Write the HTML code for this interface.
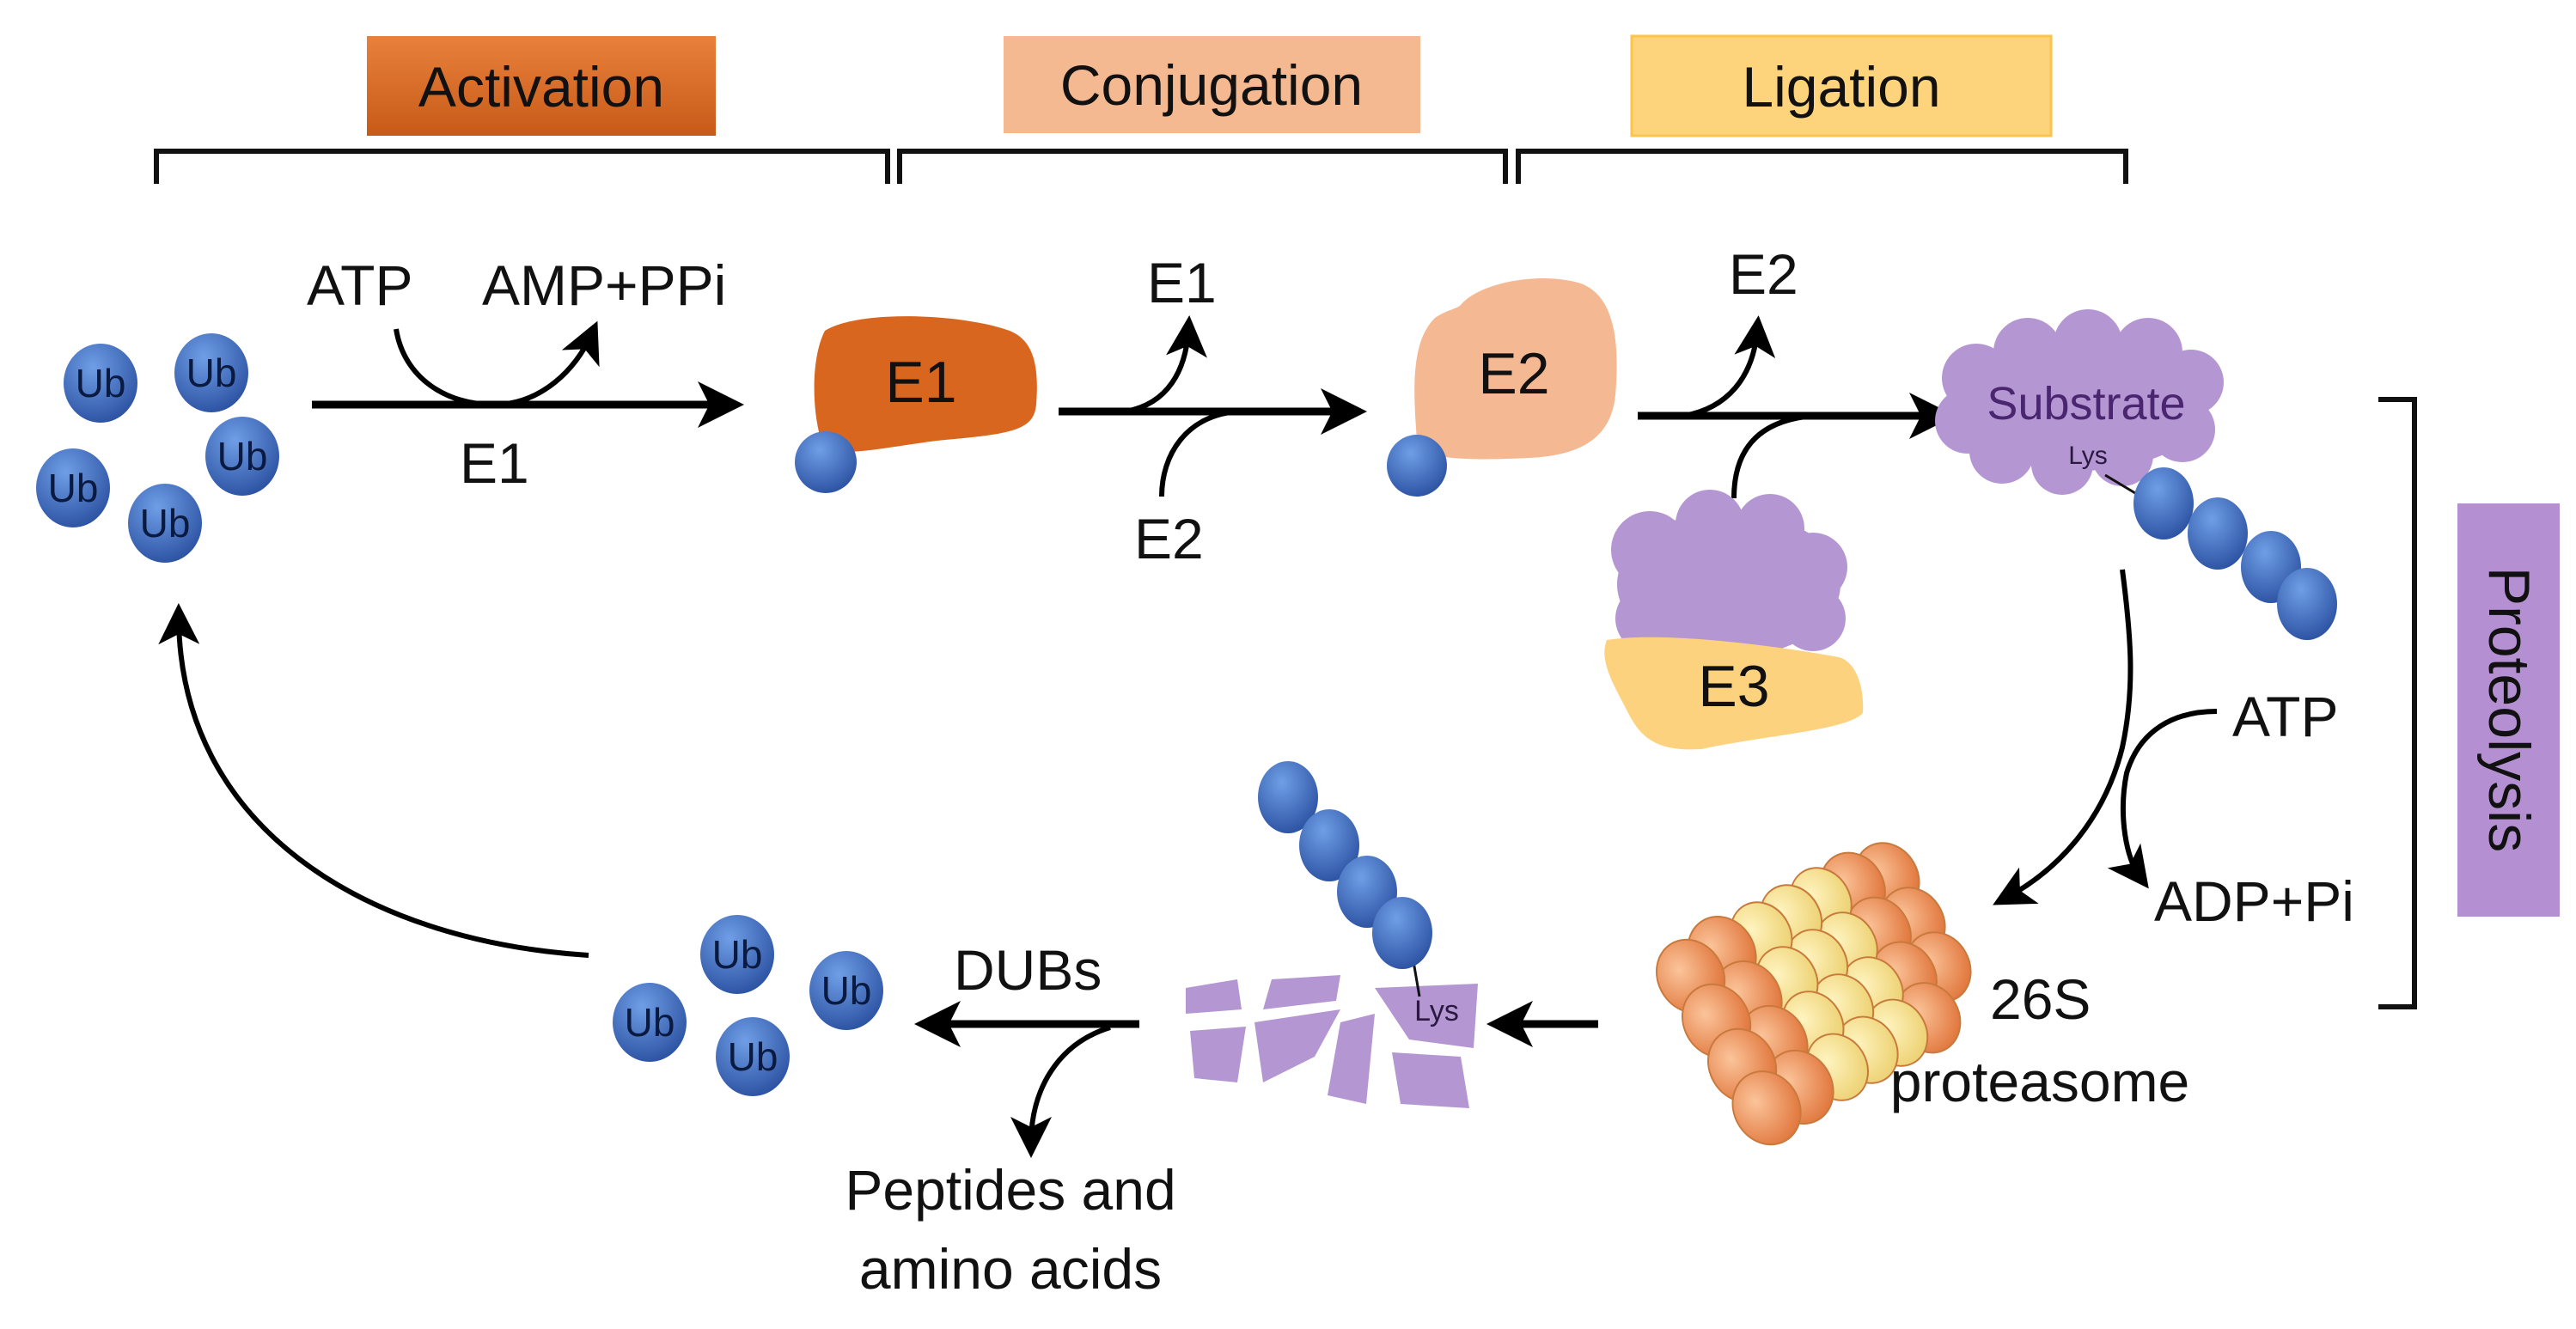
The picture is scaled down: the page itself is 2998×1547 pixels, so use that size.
<!DOCTYPE html>
<html><head><meta charset="utf-8"><style>
html,body{margin:0;padding:0;background:#fff;}
svg{display:block;}
text{font-family:"Liberation Sans",Arial,sans-serif;}
</style></head><body>
<svg width="2998" height="1547" viewBox="0 0 2998 1547" xmlns="http://www.w3.org/2000/svg">
<defs>
<radialGradient id="ub" cx="40%" cy="30%" r="75%"><stop offset="0" stop-color="#6f9ee6"/><stop offset="1" stop-color="#2a50a0"/></radialGradient>
<linearGradient id="act" x1="0" y1="0" x2="0" y2="1"><stop offset="0" stop-color="#e8813c"/><stop offset="1" stop-color="#c85a18"/></linearGradient>
<radialGradient id="og" cx="40%" cy="35%" r="70%"><stop offset="0" stop-color="#fbc49a"/><stop offset="1" stop-color="#e0743a"/></radialGradient>
<radialGradient id="yg" cx="40%" cy="35%" r="70%"><stop offset="0" stop-color="#fff4c0"/><stop offset="1" stop-color="#ecd070"/></radialGradient>
<marker id="ah" markerWidth="6" markerHeight="6" refX="4" refY="3" orient="auto" markerUnits="strokeWidth"><path d="M0,0 L6,3 L0,6 L1.5,3 z" fill="#000"/></marker>
<marker id="ah2" markerWidth="8" markerHeight="8" refX="5" refY="4" orient="auto" markerUnits="strokeWidth"><path d="M0,0 L8,4 L0,8 L2,4 z" fill="#000"/></marker>
</defs>

<rect x="427" y="42" width="406" height="116" fill="url(#act)"/>
<text x="630" y="124" font-size="66" text-anchor="middle" fill="#111">Activation</text>
<rect x="1168" y="42" width="485" height="113" fill="#f4b990"/>
<text x="1410" y="122" font-size="66" text-anchor="middle" fill="#111">Conjugation</text>
<rect x="1899" y="42" width="488" height="116" fill="#fdd47c" stroke="#fcc44a" stroke-width="3"/>
<text x="2143" y="124" font-size="66" text-anchor="middle" fill="#111">Ligation</text>

<g fill="none" stroke="#111" stroke-width="6">
<path d="M182,214 V176 H1033 V214"/>
<path d="M1047,214 V176 H1752 V214"/>
<path d="M1767,214 V176 H2474 V214"/>
<path d="M2768,465 H2810 V1172 H2768"/>
</g>

<g font-size="46" text-anchor="middle" fill="#0a1a40">
<ellipse cx="117" cy="446" rx="43" ry="46" fill="url(#ub)"/><text x="117" y="462">Ub</text>
<ellipse cx="246" cy="434" rx="43" ry="46" fill="url(#ub)"/><text x="246" y="450">Ub</text>
<ellipse cx="282" cy="531" rx="43" ry="46" fill="url(#ub)"/><text x="282" y="547">Ub</text>
<ellipse cx="85" cy="568" rx="43" ry="46" fill="url(#ub)"/><text x="85" y="584">Ub</text>
<ellipse cx="192" cy="609" rx="43" ry="46" fill="url(#ub)"/><text x="192" y="625">Ub</text>
</g>

<line x1="363" y1="471" x2="848" y2="471" stroke="#000" stroke-width="9" marker-end="url(#ah)"/>
<path d="M461,383 C470,440 520,472 577,471 C630,470 670,430 688,390" fill="none" stroke="#000" stroke-width="6" marker-end="url(#ah2)"/>
<g font-size="66" fill="#111">
<text x="357" y="355">ATP</text>
<text x="561" y="355">AMP+PPi</text>
<text x="535" y="562">E1</text>
</g>

<path d="M960,385 C1000,360 1120,365 1175,385 C1200,395 1210,420 1206,470 C1204,500 1180,505 1100,512 C1050,517 1000,530 960,525 C945,490 942,420 960,385 Z" fill="#d9661f"/>
<ellipse cx="961" cy="538" rx="36" ry="36" fill="url(#ub)"/>
<text x="1072" y="468" font-size="68" text-anchor="middle" fill="#111">E1</text>

<line x1="1232" y1="479" x2="1573" y2="479" stroke="#000" stroke-width="9" marker-end="url(#ah)"/>
<path d="M1310,479 C1360,470 1380,430 1383,385" fill="none" stroke="#000" stroke-width="6" marker-end="url(#ah2)"/>
<path d="M1352,578 C1352,530 1380,484 1440,479" fill="none" stroke="#000" stroke-width="6"/>
<text x="1335" y="352" font-size="66" fill="#111">E1</text>
<text x="1320" y="650" font-size="66" fill="#111">E2</text>

<path d="M1700,355 C1720,330 1790,315 1840,330 C1880,345 1885,400 1880,460 C1875,510 1840,530 1780,533 C1720,536 1680,535 1650,525 C1645,460 1640,400 1670,370 C1685,360 1695,360 1700,355 Z" fill="#f4b893"/>
<ellipse cx="1649" cy="542" rx="35" ry="36" fill="url(#ub)"/>
<text x="1762" y="458" font-size="68" text-anchor="middle" fill="#111">E2</text>

<line x1="1906" y1="484" x2="2258" y2="484" stroke="#000" stroke-width="9" marker-end="url(#ah)"/>
<path d="M1960,484 C2010,475 2040,440 2045,385" fill="none" stroke="#000" stroke-width="6" marker-end="url(#ah2)"/>
<path d="M2018,580 C2018,530 2040,490 2110,484" fill="none" stroke="#000" stroke-width="6"/>
<text x="2012" y="342" font-size="66" fill="#111">E2</text>

<g fill="#b496d2">
<ellipse cx="2420" cy="470" rx="150" ry="78"/>
<circle cx="2300" cy="440" r="40"/><circle cx="2360" cy="410" r="40"/><circle cx="2430" cy="400" r="40"/><circle cx="2500" cy="410" r="40"/><circle cx="2550" cy="445" r="38"/>
<circle cx="2290" cy="490" r="38"/><circle cx="2330" cy="525" r="38"/><circle cx="2400" cy="540" r="36"/><circle cx="2470" cy="530" r="36"/><circle cx="2540" cy="500" r="38"/>
</g>
<text x="2428" y="488" font-size="54" text-anchor="middle" fill="#4a2670">Substrate</text>
<text x="2430" y="540" font-size="30" text-anchor="middle" fill="#2a1a40">Lys</text>
<line x1="2450" y1="553" x2="2500" y2="583" stroke="#111" stroke-width="3"/>
<ellipse cx="2518" cy="586" rx="35" ry="42" fill="url(#ub)"/>
<ellipse cx="2581" cy="621" rx="35" ry="42" fill="url(#ub)"/>
<ellipse cx="2643" cy="660" rx="35" ry="42" fill="url(#ub)"/>
<ellipse cx="2685" cy="703" rx="35" ry="42" fill="url(#ub)"/>

<g fill="#b496d2">
<ellipse cx="2012" cy="680" rx="130" ry="85"/>
<circle cx="1920" cy="640" r="45"/><circle cx="1990" cy="610" r="40"/><circle cx="2060" cy="615" r="40"/><circle cx="2110" cy="660" r="40"/><circle cx="2110" cy="720" r="38"/><circle cx="1920" cy="720" r="40"/>
</g>
<path d="M1870,745 C1930,735 2060,750 2140,765 C2160,770 2170,800 2168,830 C2150,850 2060,855 1980,872 C1930,875 1910,860 1895,830 C1880,800 1860,770 1870,745 Z" fill="#fdd27e"/>
<text x="2018" y="822" font-size="68" text-anchor="middle" fill="#111">E3</text>

<rect x="2860" y="586" width="119" height="481" fill="#b48fd1"/>
<text transform="translate(2897,826) rotate(90)" font-size="68" text-anchor="middle" fill="#111">Proteolysis</text>

<path d="M2470,663 C2480,740 2485,800 2470,870 C2450,950 2400,1010 2335,1045" fill="none" stroke="#000" stroke-width="6" marker-end="url(#ah2)"/>
<path d="M2580,828 C2530,828 2490,850 2475,900 C2465,950 2475,1000 2490,1020" fill="none" stroke="#000" stroke-width="6" marker-end="url(#ah2)"/>
<text x="2598" y="857" font-size="66" fill="#111">ATP</text>
<text x="2507" y="1072" font-size="66" fill="#111">ADP+Pi</text>

<!-- Proteasome: cylinder axis lower-left to upper-right -->
<g transform="translate(2114,1150) rotate(-30)" stroke="#c87a3c" stroke-width="2">
<g fill="url(#og)">
<ellipse cx="135" cy="-70" rx="36" ry="42"/><ellipse cx="135" cy="-10" rx="36" ry="42"/><ellipse cx="135" cy="50" rx="36" ry="42"/>
<ellipse cx="95" cy="-80" rx="36" ry="42"/><ellipse cx="95" cy="-20" rx="36" ry="42"/><ellipse cx="95" cy="40" rx="36" ry="42"/><ellipse cx="95" cy="95" rx="36" ry="42"/>
</g>
<g fill="url(#yg)">
<ellipse cx="55" cy="-85" rx="34" ry="40"/><ellipse cx="55" cy="-25" rx="34" ry="40"/><ellipse cx="55" cy="35" rx="34" ry="40"/><ellipse cx="55" cy="92" rx="34" ry="40"/>
<ellipse cx="15" cy="-85" rx="34" ry="40"/><ellipse cx="15" cy="-25" rx="34" ry="40"/><ellipse cx="15" cy="35" rx="34" ry="40"/><ellipse cx="15" cy="92" rx="34" ry="40"/>
<ellipse cx="-25" cy="-85" rx="34" ry="40"/><ellipse cx="-25" cy="-25" rx="34" ry="40"/><ellipse cx="-25" cy="35" rx="34" ry="40"/><ellipse cx="-25" cy="92" rx="34" ry="40"/>
</g>
<g fill="url(#og)">
<ellipse cx="-75" cy="-90" rx="38" ry="44"/><ellipse cx="-75" cy="-30" rx="38" ry="44"/><ellipse cx="-75" cy="30" rx="38" ry="44"/><ellipse cx="-75" cy="90" rx="38" ry="44"/>
<ellipse cx="-120" cy="-85" rx="38" ry="44"/><ellipse cx="-120" cy="-25" rx="38" ry="44"/><ellipse cx="-120" cy="35" rx="38" ry="44"/><ellipse cx="-120" cy="92" rx="38" ry="44"/>
</g>
</g>
<text x="2316" y="1186" font-size="66" fill="#111">26S</text>
<text x="2374" y="1282" font-size="66" text-anchor="middle" fill="#111">proteasome</text>

<line x1="1860" y1="1192" x2="1748" y2="1192" stroke="#000" stroke-width="9" marker-end="url(#ah)"/>

<g fill="#b496d2">
<path d="M1380,1150 L1440,1140 L1445,1175 L1380,1180 Z"/>
<path d="M1385,1200 L1450,1195 L1440,1260 L1390,1255 Z"/>
<path d="M1460,1190 L1560,1175 L1530,1230 L1470,1260 Z"/>
<path d="M1480,1140 L1560,1135 L1555,1165 L1470,1175 Z"/>
<path d="M1560,1190 L1600,1180 L1590,1285 L1545,1275 Z"/>
<path d="M1600,1150 L1720,1145 L1715,1220 L1640,1210 Z"/>
<path d="M1620,1225 L1700,1230 L1710,1290 L1630,1285 Z"/>
</g>
<text x="1672" y="1188" font-size="34" text-anchor="middle" fill="#2a1a40">Lys</text>
<line x1="1640" y1="1090" x2="1652" y2="1160" stroke="#111" stroke-width="3"/>
<ellipse cx="1499" cy="928" rx="35" ry="42" fill="url(#ub)"/>
<ellipse cx="1547" cy="984" rx="35" ry="42" fill="url(#ub)"/>
<ellipse cx="1591" cy="1038" rx="35" ry="42" fill="url(#ub)"/>
<ellipse cx="1632" cy="1086" rx="35" ry="42" fill="url(#ub)"/>

<line x1="1326" y1="1192" x2="1082" y2="1192" stroke="#000" stroke-width="9" marker-end="url(#ah)"/>
<path d="M1292,1196 C1230,1215 1200,1270 1200,1330" fill="none" stroke="#000" stroke-width="6" marker-end="url(#ah2)"/>
<text x="1110" y="1152" font-size="66" fill="#111">DUBs</text>
<text x="1176" y="1408" font-size="66" text-anchor="middle" fill="#111">Peptides and</text>
<text x="1176" y="1500" font-size="66" text-anchor="middle" fill="#111">amino acids</text>

<g font-size="46" text-anchor="middle" fill="#0a1a40">
<ellipse cx="858" cy="1111" rx="43" ry="46" fill="url(#ub)"/><text x="858" y="1127">Ub</text>
<ellipse cx="985" cy="1153" rx="43" ry="46" fill="url(#ub)"/><text x="985" y="1169">Ub</text>
<ellipse cx="756" cy="1190" rx="43" ry="46" fill="url(#ub)"/><text x="756" y="1206">Ub</text>
<ellipse cx="876" cy="1230" rx="43" ry="46" fill="url(#ub)"/><text x="876" y="1246">Ub</text>
</g>

<path d="M685,1112 C420,1095 210,960 208,720" fill="none" stroke="#000" stroke-width="6" marker-end="url(#ah2)"/>
</svg>
</body></html>
